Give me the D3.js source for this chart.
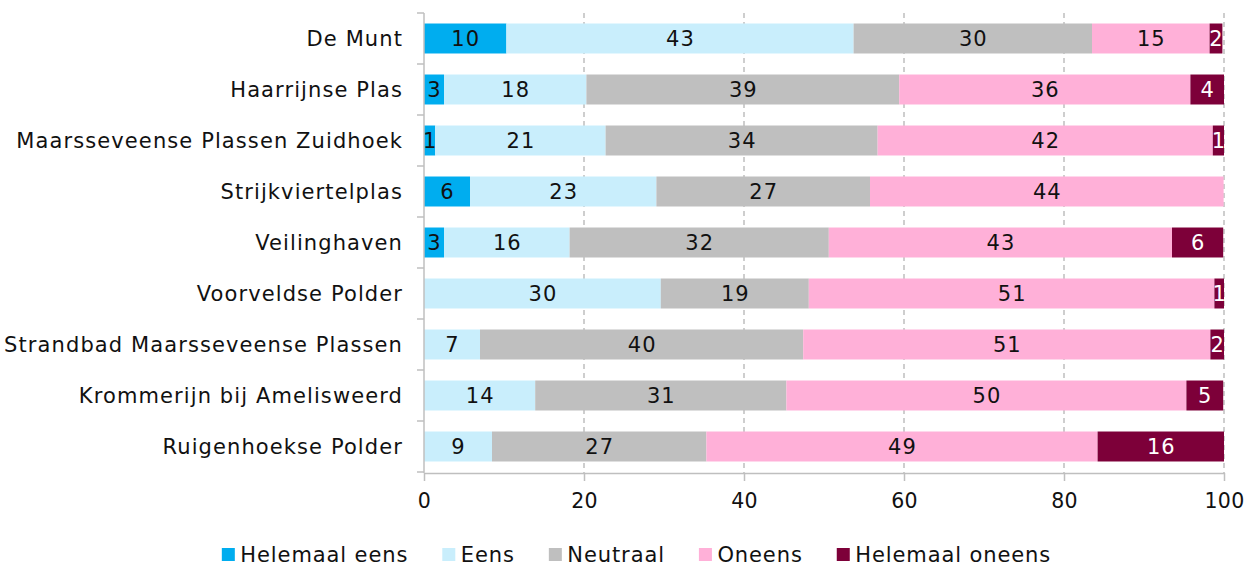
<!DOCTYPE html>
<html>
<head>
<meta charset="utf-8">
<script src="https://cdn.jsdelivr.net/npm/d3@7"></script>
<style>
  html, body { margin: 0; padding: 0; background: #fff; }
  svg { display: block; font-family: "DejaVu Sans", sans-serif; }
</style>
</head>
<body>
<svg id="chart" width="1247" height="565"></svg>
<script>
const categories = [
  "De Munt",
  "Haarrijnse Plas",
  "Maarsseveense Plassen Zuidhoek",
  "Strijkviertelplas",
  "Veilinghaven",
  "Voorveldse Polder",
  "Strandbad Maarsseveense Plassen",
  "Krommerijn bij Amelisweerd",
  "Ruigenhoekse Polder"
];
const seriesNames = ["Helemaal eens", "Eens", "Neutraal", "Oneens", "Helemaal oneens"];
const helemaalEens   = [10.3, 2.5, 1.4, 5.75, 2.5, 0, 0, 0, 0];
const eens           = [43.4, 17.8, 21.3, 23.3, 15.7, 29.6, 7.0, 13.9, 8.5];
const neutraal       = [29.8, 39.1, 34.0, 26.7, 32.4, 18.5, 40.4, 31.4, 26.8];
const oneens         = [14.7, 36.4, 41.9, 44.2, 42.9, 50.7, 50.9, 50.0, 48.9];
const helemaalOneens = [1.6, 4.2, 1.4, 0, 6.4, 1.2, 1.7, 4.6, 15.8];
const xTicks = [0, 20, 40, 60, 80, 100];
const colors = ["#00ADEF", "#C9EEFC", "#BFBFBF", "#FFB0D8", "#7D0039"];
const labelColors = ["#111", "#111", "#111", "#111", "#fff"];

const seriesValues = [helemaalEens, eens, neutraal, oneens, helemaalOneens];
const rows = categories.map((c, i) => {
  const r = { cat: c };
  seriesNames.forEach((s, j) => r[s] = seriesValues[j][i]);
  return r;
});
const stacked = d3.stack().keys(seriesNames)(rows);

const svg = d3.select("#chart");
const mLeft = 424, mRight = 1224, mTop = 13, mBottom = 472;
const x = d3.scaleLinear().domain([0, 100]).range([mLeft, mRight]);
const y = d3.scaleBand().domain(categories).range([mTop, mBottom]).paddingInner(0.412).paddingOuter(0.206);
const axisColor = "#BFBFBF";
const textColor = "#111";
const FS = 21;
const LS = "1.1px";

// gridlines
svg.append("g").selectAll("line").data(xTicks.filter(d => d > 0)).join("line")
  .attr("x1", d => x(d)).attr("x2", d => x(d))
  .attr("y1", mTop).attr("y2", mBottom + 1)
  .attr("stroke", axisColor).attr("stroke-width", 1.5).attr("stroke-dasharray", "5,4");

// bars
const layer = svg.append("g").selectAll("g").data(stacked).join("g")
  .attr("fill", (d, i) => colors[i]);
layer.selectAll("rect").data(d => d).join("rect")
  .attr("x", d => x(d[0]))
  .attr("width", d => Math.max(0, x(d[1]) - x(d[0])))
  .attr("y", d => y(d.data.cat))
  .attr("height", y.bandwidth());

// bar labels
stacked.forEach((s, i) => {
  svg.append("g").selectAll("text").data(s.filter(d => d[1] - d[0] >= 0.5)).join("text")
    .attr("x", d => (x(d[0]) + x(d[1])) / 2 + 0.55)
    .attr("y", d => y(d.data.cat) + y.bandwidth() / 2)
    .attr("dy", "0.36em")
    .attr("text-anchor", "middle")
    .attr("font-size", FS)
    .style("letter-spacing", LS)
    .attr("fill", labelColors[i])
    .text(d => Math.round(d[1] - d[0]));
});

// y axis line
svg.append("line").attr("x1", mLeft).attr("x2", mLeft).attr("y1", mTop).attr("y2", mBottom + 1)
  .attr("stroke", axisColor).attr("stroke-width", 1.5);
// y boundary ticks
const step = y.step();
const boundaries = d3.range(categories.length + 1).map(i => y(categories[0]) - step * y.paddingInner() / 2 + i * step);
svg.append("g").selectAll("line").data(boundaries).join("line")
  .attr("x1", mLeft - 7).attr("x2", mLeft)
  .attr("y1", d => d).attr("y2", d => d)
  .attr("stroke", axisColor).attr("stroke-width", 1.5);
// y labels
svg.append("g").selectAll("text").data(categories).join("text")
  .attr("x", mLeft - 21)
  .attr("y", d => y(d) + y.bandwidth() / 2)
  .attr("dy", "0.36em")
  .attr("text-anchor", "end")
  .attr("font-size", FS)
  .style("letter-spacing", LS)
  .attr("fill", textColor)
  .text(d => d);

// x axis
const xAxis = svg.append("g").attr("transform", `translate(0,${mBottom + 1})`)
  .call(d3.axisBottom(x).tickValues(xTicks).tickSize(8).tickPadding(12).tickSizeOuter(0));
xAxis.select(".domain").attr("stroke", axisColor).attr("stroke-width", 1.5);
xAxis.selectAll(".tick line").attr("stroke", axisColor).attr("stroke-width", 1.5);
xAxis.selectAll(".tick text").attr("font-size", 20.5).attr("fill", textColor)
  .attr("font-family", "DejaVu Sans, sans-serif").style("letter-spacing", "0.3px");

// legend
const legend = svg.append("g");
const items = legend.selectAll("g").data(seriesNames).join("g");
items.append("rect").attr("width", 13).attr("height", 13).attr("y", 548)
  .attr("fill", (d, i) => colors[i]);
items.append("text").attr("x", 18.5).attr("y", 561.5)
  .attr("font-size", FS).style("letter-spacing", "0.9px").attr("fill", textColor)
  .text(d => d);
const widths = [];
items.each(function () { widths.push(this.querySelector("text").getComputedTextLength()); });
const gap = 34;
const total = d3.sum(widths, w => 18.5 + w) + gap * (widths.length - 1);
let cx = 636.5 - total / 2;
items.each(function (d, i) {
  d3.select(this).attr("transform", `translate(${cx},0)`);
  cx += 18.5 + widths[i] + gap;
});
</script>
</body>
</html>
